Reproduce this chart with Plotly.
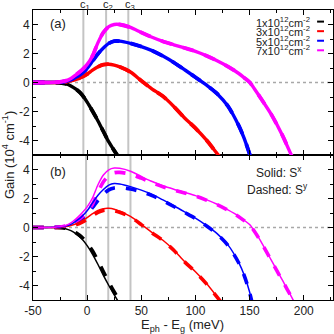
import plotly.graph_objects as go

# ---------------- data ----------------
x_k = [-50, -40, -30, -25, -20, -15, -10, -5, 0, 5, 10, 15, 20, 25, 30]
x_r = [-50, -40, -30, -25, -20, -15, -10, -5, 0, 5, 10, 15, 20, 25, 30, 40, 50, 60, 70, 80, 90, 100, 110, 120, 125]
x_b = [-50, -40, -30, -25, -20, -15, -10, -5, 0, 5, 10, 15, 20, 25, 30, 40, 50, 60, 70, 80, 90, 100, 110, 120, 130, 140, 145, 150, 153]
x_m = [-50, -40, -30, -25, -20, -15, -10, -5, 0, 5, 10, 15, 20, 25, 30, 40, 50, 60, 70, 80, 90, 100, 110, 120, 130, 140, 145, 150, 155, 160, 170, 180, 190, 195]

# panel (a)
a_k = [0, 0, 0, -0.02, -0.08, -0.24, -0.48, -0.82, -1.35, -1.98, -2.65, -3.38, -4.1, -4.7, -5.25]
a_r = [0, 0, 0, 0.02, 0.05, 0.12, 0.22, 0.38, 0.58, 0.85, 1.08, 1.23, 1.26, 1.2, 1.08, 0.72, 0.12, -0.45, -0.95, -1.65, -2.45, -3.15, -3.95, -4.9, -5.3]
a_b = [0, 0, 0.01, 0.03, 0.08, 0.18, 0.38, 0.62, 0.98, 1.48, 1.98, 2.38, 2.7, 2.85, 2.85, 2.7, 2.48, 2.2, 1.82, 1.38, 0.88, 0.36, -0.17, -0.77, -1.63, -2.98, -3.85, -4.93, -5.6]
a_m = [0, 0, 0.02, 0.05, 0.12, 0.28, 0.55, 0.85, 1.25, 1.85, 2.75, 3.45, 3.85, 4.0, 4.0, 3.8, 3.45, 3.12, 2.83, 2.6, 2.38, 2.15, 1.85, 1.5, 1.1, 0.62, 0.33, 0.02, -0.5, -1.05, -2.2, -3.6, -5.25, -6.0]

# panel (b), solid S^x
bx_k = [0, 0, 0, -0.02, -0.08, -0.22, -0.45, -0.78, -1.25, -1.85, -2.55, -3.3, -4.0, -4.65, -5.25]
bx_r = [0, 0, 0, 0.02, 0.06, 0.14, 0.26, 0.45, 0.68, 0.95, 1.18, 1.3, 1.32, 1.26, 1.12, 0.76, 0.22, -0.36, -0.88, -1.55, -2.35, -3.05, -3.85, -4.78, -5.25]
bx_b = [0, 0, 0.01, 0.04, 0.1, 0.22, 0.45, 0.75, 1.15, 1.7, 2.22, 2.62, 2.92, 3.03, 3.0, 2.82, 2.58, 2.28, 1.9, 1.5, 1.08, 0.65, 0.15, -0.42, -1.2, -2.42, -3.28, -4.45, -5.4]
bx_m = [0, 0, 0.02, 0.06, 0.14, 0.32, 0.62, 0.98, 1.42, 2.05, 2.95, 3.62, 3.98, 4.1, 4.08, 3.88, 3.52, 3.17, 2.88, 2.64, 2.42, 2.2, 1.92, 1.6, 1.22, 0.78, 0.5, 0.2, -0.3, -0.9, -2.25, -3.6, -4.97, -5.8]

# panel (b), dashed S^y
by_k = [0, 0, 0, -0.01, -0.06, -0.18, -0.38, -0.66, -1.08, -1.62, -2.3, -3.05, -3.78, -4.45, -5.05]
by_r = [0, 0, 0, 0.01, 0.04, 0.1, 0.2, 0.36, 0.56, 0.82, 1.05, 1.18, 1.2, 1.16, 1.05, 0.72, 0.2, -0.38, -0.9, -1.57, -2.37, -3.07, -3.87, -4.8, -5.27]
by_b = [0, 0, 0.01, 0.03, 0.07, 0.16, 0.34, 0.58, 0.9, 1.38, 1.88, 2.3, 2.6, 2.73, 2.75, 2.65, 2.47, 2.2, 1.84, 1.45, 1.04, 0.62, 0.12, -0.45, -1.23, -2.45, -3.31, -4.48, -5.43]
by_m = [0, 0, 0.01, 0.04, 0.1, 0.22, 0.45, 0.72, 1.08, 1.62, 2.45, 3.15, 3.6, 3.78, 3.8, 3.68, 3.4, 3.08, 2.8, 2.58, 2.38, 2.17, 1.89, 1.57, 1.19, 0.75, 0.47, 0.17, -0.33, -0.93, -2.28, -3.63, -5.0, -5.83]

c_top = [-3.5, 17.5, 38]
c_bot = [-1, 19.5, 40]
c_labels = ["c<sub>1</sub>", "c<sub>2</sub>", "c<sub>3</sub>"]

densities = ["1x10<sup>12</sup>cm<sup>-2</sup>", "3x10<sup>12</sup>cm<sup>-2</sup>",
             "5x10<sup>12</sup>cm<sup>-2</sup>", "7x10<sup>12</sup>cm<sup>-2</sup>"]
colors = ["#000000", "#ff0000", "#0000ff", "#ff00ff"]

x_ticks = [-50, 0, 50, 100, 150, 200]
x_minor = [-25, 25, 75, 125, 175, 225]
y_ticks = [-4, -2, 0, 2, 4]
y_minor = [-5, -3, -1, 1, 3, 5]

FONT = "Liberation Sans, Arial, sans-serif"

# ---------------- figure ----------------
fig = go.Figure()
xs = [x_k, x_r, x_b, x_m]
A = [a_k, a_r, a_b, a_m]
BX = [bx_k, bx_r, bx_b, bx_m]
BY = [by_k, by_r, by_b, by_m]

for xv, yv, col in zip(xs, A, colors):
    fig.add_trace(go.Scatter(x=xv, y=yv, mode="lines", xaxis="x2", yaxis="y2",
                             line=dict(color=col, width=3.4, shape="spline", smoothing=0.8),
                             showlegend=False, hoverinfo="skip"))
    fig.add_trace(go.Scatter(x=xv, y=yv, mode="lines", xaxis="x2", yaxis="y2",
                             line=dict(color=col, width=3.8, dash="dash", shape="spline", smoothing=0.8),
                             showlegend=False, hoverinfo="skip"))

for xv, yv, col in zip(xs, BY, colors):
    fig.add_trace(go.Scatter(x=xv, y=yv, mode="lines", xaxis="x", yaxis="y",
                             line=dict(color=col, width=3.6, dash="dash", shape="spline", smoothing=0.8),
                             showlegend=False, hoverinfo="skip"))
for xv, yv, col in zip(xs, BX, colors):
    fig.add_trace(go.Scatter(x=xv, y=yv, mode="lines", xaxis="x", yaxis="y",
                             line=dict(color=col, width=1.5, shape="spline", smoothing=0.8),
                             showlegend=False, hoverinfo="skip"))

shapes = []
for c in c_top:
    shapes.append(dict(type="line", xref="x2", yref="y2 domain", x0=c, x1=c, y0=0, y1=1,
                       line=dict(color="#c4c4c4", width=2), layer="below"))
for c in c_bot:
    shapes.append(dict(type="line", xref="x", yref="y domain", x0=c, x1=c, y0=0, y1=1,
                       line=dict(color="#c4c4c4", width=2), layer="below"))
for xr, yr in (("x2 domain", "y2"), ("x domain", "y")):
    shapes.append(dict(type="line", xref=xr, yref=yr, x0=0, x1=1, y0=0, y1=0,
                       line=dict(color="#a8a8a8", width=1.5, dash="dot"), layer="below"))

annotations = []
for c, lab in zip(c_top, c_labels):
    annotations.append(dict(x=c, y=1.0, xref="x2", yref="paper", text=lab, showarrow=False,
                            xanchor="center", yanchor="bottom", xshift=2, yshift=-4,
                            font=dict(size=11, color="#222", family=FONT)))

# legend (text right, sample line to the right)
rows = [0.96, 0.927, 0.894, 0.861]
for lab, col, ry in zip(densities, colors, rows):
    annotations.append(dict(x=0.93, y=ry, xref="paper", yref="paper", text=lab, showarrow=False,
                            xanchor="right", yanchor="middle",
                            font=dict(size=11, color="#222", family=FONT)))
    shapes.append(dict(type="line", xref="paper", yref="paper", x0=0.947, x1=0.97, y0=ry, y1=ry,
                       line=dict(color=col, width=2)))

annotations += [
    dict(x=0.05, y=0.952, xref="paper", yref="paper", text="(a)", showarrow=False,
         xanchor="left", yanchor="middle", font=dict(size=13, color="#222", family=FONT)),
    dict(x=0.05, y=0.443, xref="paper", yref="paper", text="(b)", showarrow=False,
         xanchor="left", yanchor="middle", font=dict(size=13, color="#222", family=FONT)),
    dict(x=0.82, y=0.443, xref="paper", yref="paper", text="Solid: S<sup>x</sup>", showarrow=False,
         xanchor="center", yanchor="middle", font=dict(size=12, color="#222", family=FONT)),
    dict(x=0.815, y=0.383, xref="paper", yref="paper", text="Dashed: S<sup>y</sup>", showarrow=False,
         xanchor="center", yanchor="middle", font=dict(size=12, color="#222", family=FONT)),
    dict(x=-0.083, y=0.5, xref="paper", yref="paper", text="Gain (10<sup>4</sup> cm<sup>-1</sup>)",
         showarrow=False, textangle=-90, xanchor="center", yanchor="middle",
         font=dict(size=13, color="#222", family=FONT)),
    dict(x=0.497, y=-0.087, xref="paper", yref="paper", text="E<sub>ph</sub> - E<sub>g</sub> (meV)",
         showarrow=False, xanchor="center", yanchor="middle",
         font=dict(size=13, color="#222", family=FONT)),
]

axis_common = dict(showline=True, linecolor="#000", linewidth=1, mirror="ticks", ticks="inside",
                   ticklen=5, tickcolor="#000", showgrid=False, zeroline=False,
                   tickfont=dict(size=12, color="#222", family=FONT))

fig.update_layout(
    width=334, height=334,
    margin=dict(l=33, r=1, t=10, b=34),
    paper_bgcolor="white", plot_bgcolor="white",
    shapes=shapes, annotations=annotations,
    xaxis=dict(domain=[0, 1], anchor="y", range=[-50, 227], tickmode="array",
               tickvals=x_ticks, ticktext=[str(v) for v in x_ticks],
               minor=dict(tickmode="array", tickvals=x_minor, ticks="inside", ticklen=3, tickcolor="#000"),
               **axis_common),
    xaxis2=dict(domain=[0, 1], anchor="y2", range=[-50, 227], tickmode="array",
                tickvals=x_ticks, showticklabels=False,
                minor=dict(tickmode="array", tickvals=x_minor, ticks="inside", ticklen=3, tickcolor="#000"),
                **axis_common),
    yaxis=dict(domain=[0, 0.5], anchor="x", range=[-5, 5], tickmode="array",
               tickvals=y_ticks, ticktext=[str(v) for v in y_ticks],
               minor=dict(tickmode="array", tickvals=y_minor, ticks="inside", ticklen=3, tickcolor="#000"),
               **axis_common),
    yaxis2=dict(domain=[0.5, 1], anchor="x2", range=[-5, 5], tickmode="array",
                tickvals=y_ticks, ticktext=[str(v) for v in y_ticks],
                minor=dict(tickmode="array", tickvals=y_minor, ticks="inside", ticklen=3, tickcolor="#000"),
                **axis_common),
)

fig.write_html("out.html", config={"displayModeBar": False, "staticPlot": True},
               post_script="document.body.style.margin='0';document.body.style.padding='0';")
